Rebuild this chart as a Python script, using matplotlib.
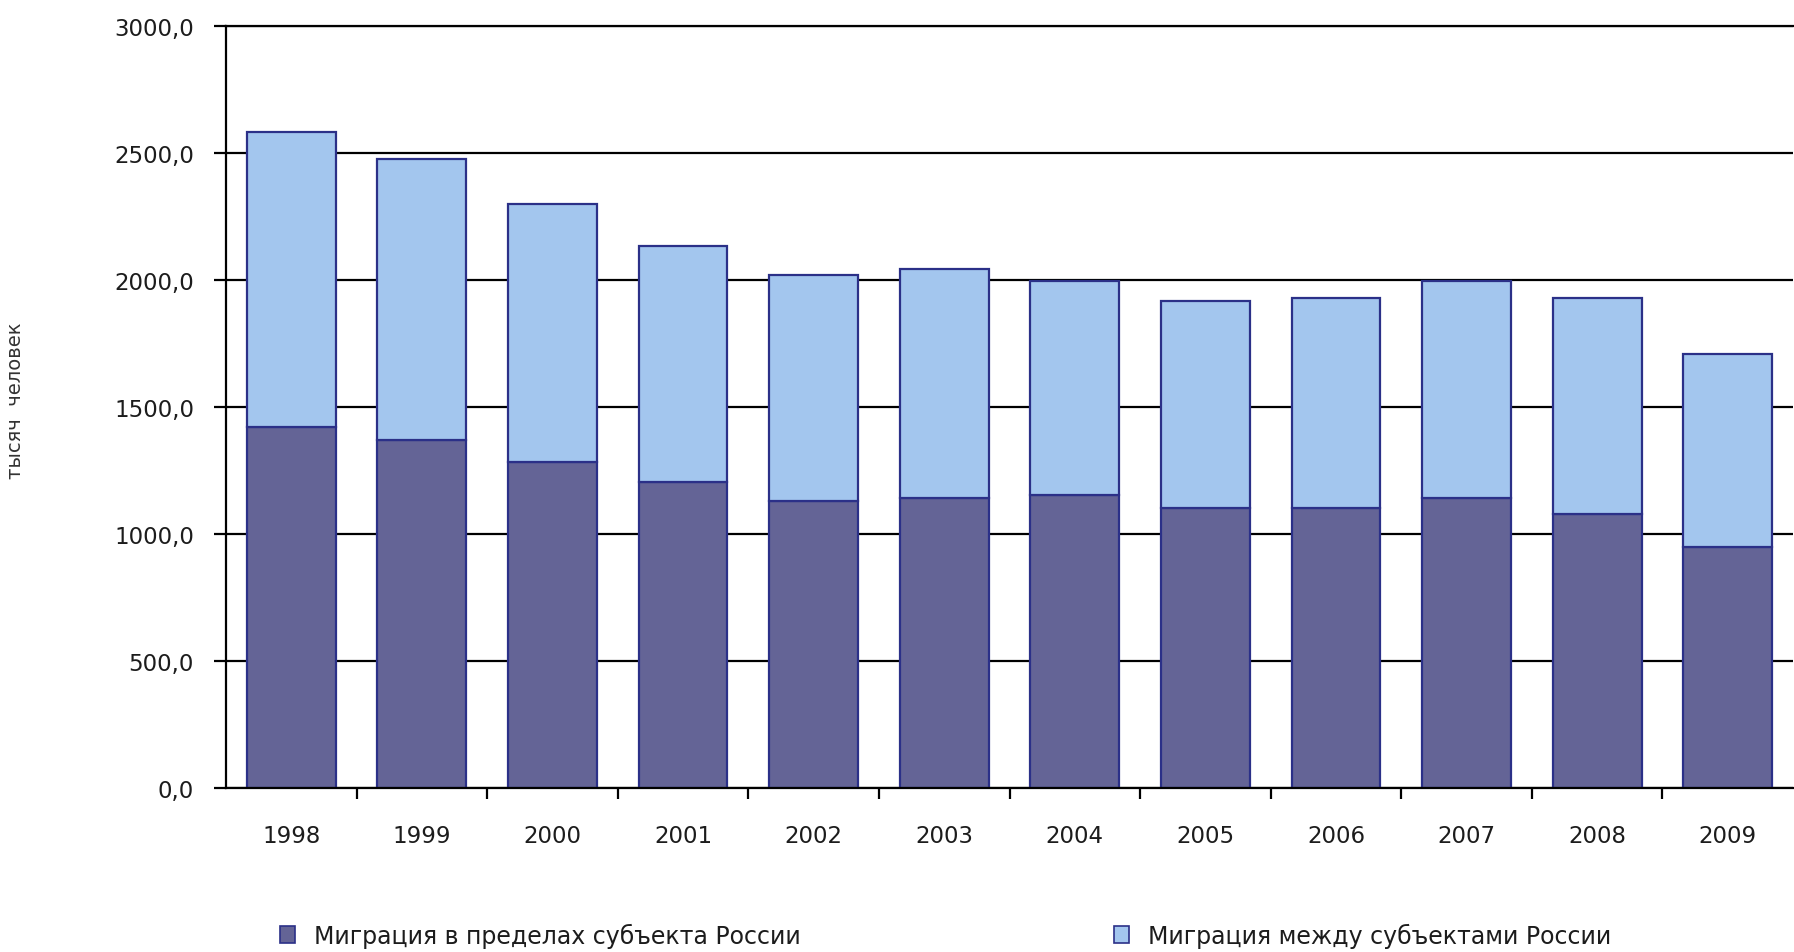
import matplotlib
matplotlib.use("Agg")
import matplotlib.pyplot as plt
from matplotlib.patches import Patch
from matplotlib.ticker import FixedLocator, FuncFormatter
import numpy as np

years = ["1998", "1999", "2000", "2001", "2002", "2003", "2004", "2005", "2006", "2007", "2008", "2009"]
within_region = [1421, 1372, 1282, 1204, 1130, 1141, 1153, 1103, 1103, 1141, 1078, 950]
between_regions = [1161, 1105, 1017, 930, 889, 903, 845, 813, 826, 856, 850, 760]
series_labels = ["Миграция в пределах субъекта России", "Миграция между субъектами России"]
y_label = "тысяч  человек"

plt.rcParams['font.family'] = ['DejaVu Sans']

W, H = 1794, 953
fig = plt.figure(figsize=(W / 100, H / 100), dpi=100)
ax = fig.add_axes([226 / W, 1 - 789 / H, (1793 - 226) / W, (789 - 27) / H])

dark = "#646496"
light = "#a3c6ee"
edge = "#2b3088"
txt = "#1c1c1c"

x = np.arange(len(years))
bw = 0.68
ax.bar(x, within_region, width=bw, color=dark, edgecolor=edge, linewidth=1.6, zorder=3)
ax.bar(x, between_regions, width=bw, bottom=within_region, color=light, edgecolor=edge, linewidth=1.6, zorder=3)

ax.set_xlim(-0.5, len(years) - 0.5)
ax.set_ylim(0, 3000)

ax.yaxis.set_major_locator(FixedLocator(np.arange(0, 3001, 500)))
ax.yaxis.set_major_formatter(FuncFormatter(lambda v, p: f"{v:.1f}".replace('.', ',')))
ax.grid(axis='y', color='black', linewidth=1.6, zorder=1)
ax.set_axisbelow(True)

ax.set_xticks(x)
ax.set_xticklabels(years)
ax.set_xticks(np.arange(0.5, len(years) - 0.5, 1), minor=True)
ax.tick_params(axis='x', which='major', length=0, pad=26, labelsize=16.5, labelcolor=txt)
ax.tick_params(axis='x', which='minor', length=8, width=1.6, direction='out', color='black')
ax.tick_params(axis='y', which='major', length=9, width=1.6, direction='out', pad=14,
               labelsize=16.5, color='black', labelcolor=txt)

ax.spines['right'].set_visible(False)
for s in ['left', 'bottom', 'top']:
    ax.spines[s].set_color('black')
    ax.spines[s].set_linewidth(1.6)
    ax.spines[s].set_zorder(4)

ax.set_ylabel(y_label, fontsize=14, color='#333333')
ax.yaxis.set_label_coords((25 - 226) / (1793 - 226), 0.51)

# legends
h1 = Patch(facecolor=dark, edgecolor=edge, linewidth=1.2)
h2 = Patch(facecolor=light, edgecolor=edge, linewidth=1.2)
for handle, lab, px in [(h1, series_labels[0], 280), (h2, series_labels[1], 1114)]:
    fig.legend([handle], [lab], loc='center left', bbox_to_anchor=(px / W, 1 - 936 / H),
               frameon=False, fontsize=17, handlelength=0.65, handleheight=0.75,
               handletextpad=0.8, borderpad=0, borderaxespad=0, labelcolor=txt)

fig.savefig("out.png", dpi=100, facecolor='white')
